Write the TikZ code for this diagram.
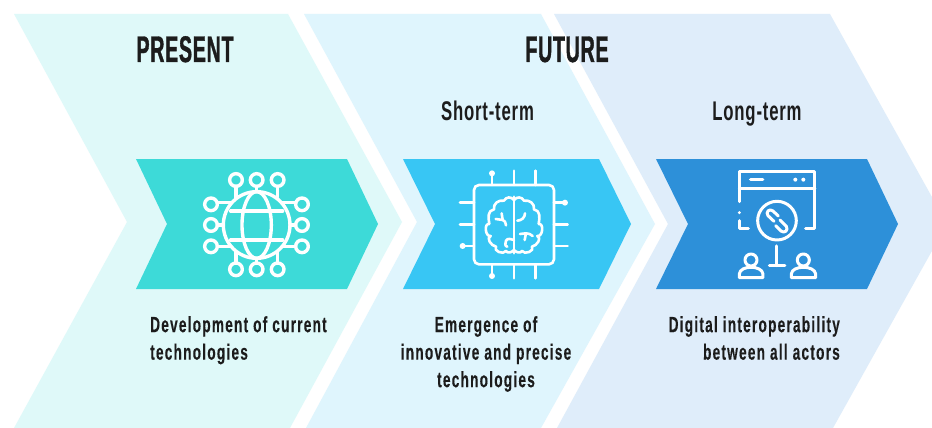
\documentclass[tikz,border=0pt]{standalone}
\usepackage{fontspec}
\setmainfont{Liberation Sans}
\newfontfamily\headfont[FakeStretch=0.53,FakeBold=1,LetterSpace=2]{Liberation Sans Bold}
\newfontfamily\subfont[FakeStretch=0.62,LetterSpace=3]{Liberation Sans Bold}
\newfontfamily\bodyfont[FakeStretch=0.62,LetterSpace=5.6,FakeBold=0.2]{Liberation Sans Bold}
\definecolor{bgA}{HTML}{DFF9F9}
\definecolor{bgB}{HTML}{DFF5FD}
\definecolor{bgC}{HTML}{DFEDFA}
\definecolor{fgA}{HTML}{3DDAD8}
\definecolor{fgB}{HTML}{38C6F4}
\definecolor{fgC}{HTML}{2D90D9}
\definecolor{ink}{HTML}{1C1C1C}
\tikzset{
  headtext/.style={text=ink,font=\headfont\fontsize{37}{37}\selectfont,inner sep=0pt,anchor=base},
  subtext/.style={text=ink,font=\subfont\fontsize{27}{27.5}\selectfont,inner sep=0pt,anchor=base},
  bodytext/.style={text=ink,font=\bodyfont\fontsize{22}{27.5}\selectfont,inner sep=0pt},
  icon/.style={draw=white,line width=3pt,line cap=round,line join=round},
  zoomA/.style={shift={(130,150)},x=0.3333pt,y=-0.3333pt},
  zoomB/.style={shift={(400,150)},x=0.3333pt,y=-0.3333pt},
  zoomC/.style={shift={(650,150)},x=0.3333pt,y=-0.3333pt},
}
\begin{document}
\begin{tikzpicture}[x=1pt,y=-1pt]
\useasboundingbox (0,0) rectangle (932,428);
\fill[white] (0,0) rectangle (932,428);
\clip (0,0) rectangle (932,428);
% large chevrons
\fill[bgA] (14,14)--(288,14)--(402,222)--(290,428)--(14,428)--(127,222)--cycle;
\fill[bgB] (304,14)--(541,14)--(655,224)--(541,428)--(306,428)--(417,222)--cycle;
\fill[bgC] (554,14)--(830,14)--(947,224)--(833,428)--(557,428)--(668,224)--cycle;
% inner chevrons
\fill[fgA] (136,159)--(347,159)--(378,224)--(347,289)--(136,289)--(167,224)--cycle;
\fill[fgB] (403,159)--(599,159)--(631,224)--(599,289)--(403,289)--(435,224)--cycle;
\fill[fgC] (656,159)--(867,159)--(898,224)--(867,289)--(656,289)--(688,224)--cycle;
% texts
\node[headtext] (present) at (185,62) {PRESENT};
\node[headtext] (future) at (567,62) {FUTURE};
\node[subtext] (short) at (487.5,120) {Short-term};
\node[subtext] (long) at (757,120) {Long-term};
\node[bodytext,align=left,anchor=north west] (bodyA) at (150,316) {Development of current\\technologies};
\node[bodytext,align=center,anchor=north] (bodyB) at (486,316) {Emergence of\\innovative and precise\\technologies};
\node[bodytext,align=right,anchor=north east] (bodyC) at (840,316) {Digital interoperability\\between all actors};
% globe icon
\begin{scope}[zoomA,icon/.append style={line width=3.4pt}]
\draw[icon] (380,225) circle[radius=100];
\draw[icon] (380,225) ellipse[x radius=44,y radius=100];
\draw[icon] (302,183)--(458,183) (302,270)--(458,270);
\foreach \p in {318,380,443}{
  \draw[icon] (\p,90) circle[radius=19];
  \draw[icon] (\p,358) circle[radius=19];
}
\foreach \q in {163,225,289}{
  \draw[icon] (243,\q) circle[radius=19];
  \draw[icon] (516,\q) circle[radius=19];
}
\draw[icon] (318,109)--(318,142) (380,109)--(380,125) (443,109)--(443,142);
\draw[icon] (318,339)--(318,306) (380,339)--(380,325) (443,339)--(443,306);
\draw[icon] (262,158)--(305,158) (262,225)--(280,225) (262,289)--(305,289);
\draw[icon] (497,158)--(455,158) (497,225)--(480,225) (497,289)--(455,289);
\end{scope}
% chip and brain icon
\begin{scope}[zoomB,icon/.append style={line width=2.6pt}]
\draw[icon,rounded corners=5pt] (222,105) rectangle (462,343);
\draw[icon] (276,105)--(276,70) (342,105)--(342,62) (407,105)--(407,62);
\draw[icon] (276,343)--(276,378) (342,343)--(342,385) (407,343)--(407,385);
\draw[icon] (222,158)--(180,158) (222,224)--(180,224) (222,288)--(188,288);
\draw[icon] (462,158)--(495,158) (462,224)--(503,224) (462,288)--(503,288);
\fill[white] (276,70) circle[radius=9] (276,378) circle[radius=9] (188,288) circle[radius=9] (495,158) circle[radius=9];
% brain
\draw[icon] (342,140)--(342,310);
\draw[icon] (342,150) to[out=130,in=60,looseness=1.2] (312,152)
  to[out=170,in=100,looseness=1.1] (282,178)
  to[out=190,in=100,looseness=1.1] (268,222)
  to[out=170,in=190,looseness=1.2] (272,258)
  to[out=200,in=170,looseness=1.1] (288,290)
  to[out=230,in=240,looseness=1.2] (318,303)
  to[out=300,in=230,looseness=1] (342,300);
\draw[icon] (342,150) to[out=50,in=120,looseness=1.2] (372,152)
  to[out=10,in=80,looseness=1.1] (402,178)
  to[out=-10,in=80,looseness=1.1] (416,222)
  to[out=10,in=-10,looseness=1.2] (412,258)
  to[out=-20,in=10,looseness=1.1] (396,290)
  to[out=-50,in=-60,looseness=1.2] (366,303)
  to[out=240,in=-50,looseness=1] (342,300);
\draw[icon] (287,207)--(308,210) to[out=0,in=100] (318,226) (308,210)--(305,190);
\draw[icon] (342,270) to[out=160,in=60] (318,272) to[out=240,in=180] (322,290);
\draw[icon] (352,212) to[out=0,in=270] (375,190);
\draw[icon] (360,252) to[out=0,in=180] (378,250) to[out=0,in=140] (398,258) (378,250) to[out=280,in=100] (374,270);
\end{scope}
% window, link and people icon
\begin{scope}[zoomC]
\draw[icon] (268,155)--(268,65)--(495,65)--(495,235)--(467,235);
\draw[icon] (268,115)--(495,115);
\draw[icon] (268,212)--(268,235)--(295,235);
\fill[white] (268,188) circle[radius=5];
\draw[icon,line width=3.6pt] (302,89)--(338,89);
\fill[white] (436,89) circle[radius=6] (460,89) circle[radius=6];
\draw[icon] (381,212) circle[radius=58];
\draw[icon] (372,214) -- (354,197) .. controls (346,186) and (358,174) .. (369,183) -- (385,198);
\draw[icon] (390,210) -- (409,229) .. controls (416,240) and (404,252) .. (393,243) -- (377,227);
\draw[icon] (381,288)--(381,347) (358,347)--(405,347);
\draw[icon] (303,330) circle[radius=18];
\draw[icon] (460,330) circle[radius=18];
\draw[icon] (268,383)--(268,372) .. controls (270,345) and (336,345) .. (339,372) -- (339,383) -- cycle;
\draw[icon] (424,383)--(424,372) .. controls (426,345) and (494,345) .. (497,372) -- (497,383) -- cycle;
\end{scope}
\end{tikzpicture}
\end{document}
